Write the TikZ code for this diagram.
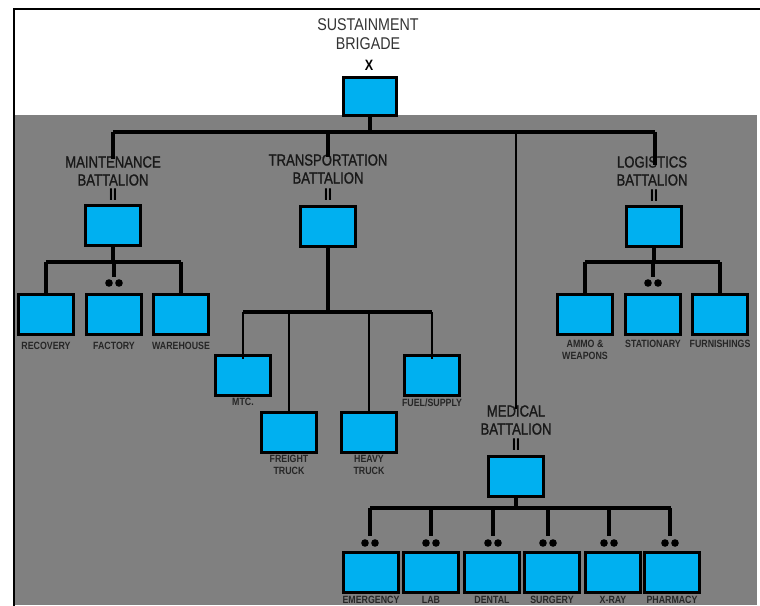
\documentclass[tikz,border=0pt]{standalone}
\usepackage{fontspec}
\setmainfont{Liberation Sans}[FakeStretch=0.84]
\newfontfamily\heavyfont{Liberation Sans}[FakeStretch=0.82, FakeBold=1.2]
\definecolor{unitblue}{HTML}{00B0F0}
\definecolor{panel}{HTML}{808080}
\definecolor{inkgray}{HTML}{333333}
\newcommand\pairdots[2]{%
  \fill (#1-5,#2) circle (3.8pt);
  \fill (#1+5,#2) circle (3.8pt);}
\begin{document}
\begin{tikzpicture}[x=1pt,y=-1pt,
  unit/.style={draw=black, line width=3pt, fill=unitblue,
    minimum width=55pt, minimum height=40pt, inner sep=0pt},
  link/.style={line width=3.3pt, black},
  fine link/.style={line width=2.6pt, black},
  titletext/.style={font=\fontsize{17}{19}\selectfont, text=inkgray, inner sep=0pt},
  batlabel/.style={font=\heavyfont\fontsize{16}{18}\selectfont, text=black!90, align=center, inner sep=0pt},
  unitlabel/.style={font=\bfseries\fontsize{10.5}{12}\selectfont, text=black!85,
    align=center, inner sep=0pt, anchor=north},
  echelon/.style={font=\bfseries\fontsize{17}{17}\selectfont, inner sep=0pt},
]
\useasboundingbox (0,0) rectangle (760,605);
\fill[white] (0,0) rectangle (760,605);
\fill[panel] (14,115) rectangle (757,605);
\draw[line width=2pt] (14,606) -- (14,9) -- (760,9);

% ---------- brigade ----------
\node[titletext] (brigname1) at (368,25) {SUSTAINMENT};
\node[titletext] (brigname2) at (368,44) {BRIGADE};
\node[echelon, font=\bfseries\fontsize{15}{15}\selectfont] (brigx) at (369,65) {X};
\node[unit, minimum width=53pt, minimum height=38pt] (brig) at (370,96) {};

\coordinate (mainbus) at (0,132);
\draw[link] (brig.south) -- (brig.south |- mainbus);
\draw[link] (113,132) -- (655,132);

% ---------- maintenance battalion ----------
\node[batlabel] (mntlab) at (113,171) {MAINTENANCE\\BATTALION};
\node[echelon] (mntii) at (113,195) {II};
\node[unit] (mnt) at (113,225) {};
\draw[link] (mntlab.north |- mainbus) -- ([yshift=-3pt]mntlab.north);
\coordinate (mntbus) at (0,262);
\draw[link] (mnt.south) -- (mnt.south |- mntbus);

\node[unit] (rec) at (46,314) {};
\node[unit] (fac) at (114,314) {};
\node[unit] (war) at (181,314) {};
\draw[link] (rec.north |- mntbus) -- (war.north |- mntbus);
\draw[link] (rec.north |- mntbus) -- ([yshift=-3pt]rec.north);
\draw[link] (war.north |- mntbus) -- ([yshift=-3pt]war.north);
\draw[link] (fac.north |- mntbus) -- (114,277);
\pairdots{114}{283}
\node[unitlabel] (reclab) at (46,342) {RECOVERY};
\node[unitlabel] (faclab) at (114,342) {FACTORY};
\node[unitlabel] (warlab) at (181,342) {WAREHOUSE};

% ---------- transportation battalion ----------
\node[batlabel] (trnlab) at (328,169) {TRANSPORTATION\\BATTALION};
\node[echelon] (trnii) at (328,195) {II};
\node[unit] (trn) at (328,226) {};
\draw[link] (trnlab.north |- mainbus) -- ([yshift=-3pt]trnlab.north);
\coordinate (trnbus) at (0,312);
\draw[link] (trn.south) -- (trn.south |- trnbus);

\node[unit] (mtc) at (243,375) {};
\node[unit] (fuel) at (432,375) {};
\node[unit] (frt) at (289,432) {};
\node[unit] (hvy) at (369,432) {};
\draw[link] (mtc.north |- trnbus) -- (fuel.north |- trnbus);
\draw[fine link] (mtc.north |- trnbus) -- ([yshift=-5pt]mtc.north);
\draw[fine link] (fuel.north |- trnbus) -- ([yshift=-5pt]fuel.north);
\draw[fine link] (frt.north |- trnbus) -- (frt.north);
\draw[fine link] (hvy.north |- trnbus) -- (hvy.north);
\node[unitlabel] (mtclab) at (243,398) {MTC.};
\node[unitlabel] (fuellab) at (432,399) {FUEL/SUPPLY};
\node[unitlabel] (frtlab) at (289,455) {FREIGHT\\TRUCK};
\node[unitlabel] (hvylab) at (369,455) {HEAVY\\TRUCK};

% ---------- logistics battalion ----------
\node[batlabel] (loglab) at (652,171) {LOGISTICS\\BATTALION};
\node[echelon] (logii) at (654,196) {II};
\node[unit] (log) at (654,226) {};
\draw[link] (655,132) -- ([yshift=-3pt]655,162);
\coordinate (logbus) at (0,262);
\draw[link] (log.south) -- (log.south |- logbus);

\node[unit] (ammo) at (585,314) {};
\node[unit] (stat) at (653,314) {};
\node[unit] (furn) at (720,314) {};
\draw[link] (ammo.north |- logbus) -- (furn.north |- logbus);
\draw[link] (ammo.north |- logbus) -- ([yshift=-3pt]ammo.north);
\draw[link] (furn.north |- logbus) -- ([yshift=-3pt]furn.north);
\draw[link] (stat.north |- logbus) -- (653,277);
\pairdots{653}{283}
\node[unitlabel] (ammolab) at (585,340) {AMMO \&\\WEAPONS};
\node[unitlabel] (statlab) at (653,340) {STATIONARY};
\node[unitlabel] (furnlab) at (720,340) {FURNISHINGS};

% ---------- medical battalion ----------
\node[batlabel] (medlab) at (516,420) {MEDICAL\\BATTALION};
\node[echelon] (medii) at (516,445) {II};
\node[unit] (med) at (516,476) {};
\draw[fine link] (medlab.north |- mainbus) -- ([yshift=-4pt]medlab.north);
\coordinate (medbus) at (0,508);
\draw[link] (med.south) -- (med.south |- medbus);

\node[unit] (emer) at (371,572) {};
\node[unit] (lab)  at (431,572) {};
\node[unit] (dent) at (492,572) {};
\node[unit] (surg) at (552,572) {};
\node[unit] (xray) at (613,572) {};
\node[unit] (phar) at (672,572) {};
\draw[link] (370,508) -- (671,508);
\foreach \xx in {370,431,493,548,609,670}{
  \draw[link] (\xx,508) -- (\xx,536);
  \pairdots{\xx}{543}
}
\node[unitlabel] (emerlab) at (371,596) {EMERGENCY};
\node[unitlabel] (lablab)  at (431,596) {LAB};
\node[unitlabel] (dentlab) at (492,596) {DENTAL};
\node[unitlabel] (surglab) at (552,596) {SURGERY};
\node[unitlabel] (xraylab) at (613,596) {X-RAY};
\node[unitlabel] (pharlab) at (672,596) {PHARMACY};
\end{tikzpicture}
\end{document}
